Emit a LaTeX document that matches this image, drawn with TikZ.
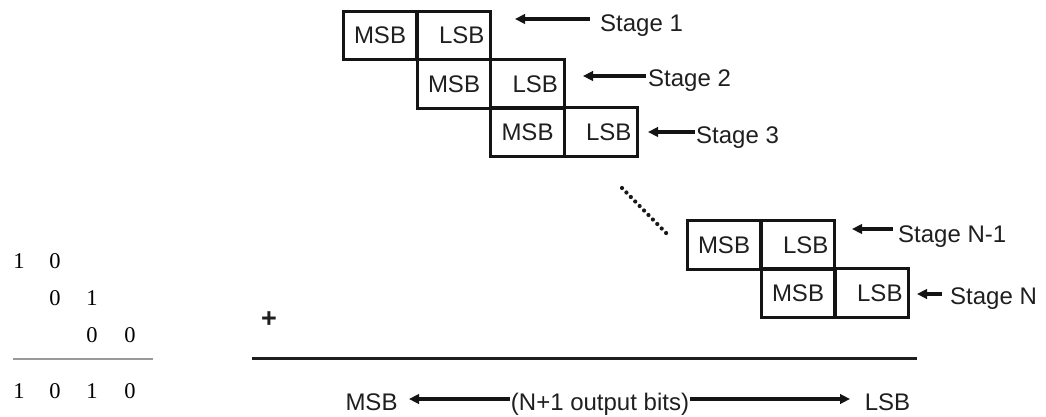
\documentclass[tikz,border=0pt]{standalone}
\usepackage{fontspec}
\setmainfont{Liberation Sans}
\newfontfamily\digitfont{Liberation Serif}
\usetikzlibrary{arrows.meta}

\begin{document}
\begin{tikzpicture}[x=1pt,y=-1pt,
  txt/.style={font=\fontsize{24}{28}\selectfont, text=black!88},
  cell/.style={txt, draw=black!92, line width=2.8pt, minimum width=73.6pt,
    minimum height=48.5pt, inner sep=0pt},
  msbcell/.style={cell, text width=73.6pt, align=center},
  lsbcell/.style={cell, inner xsep=6.3pt, text width=61pt, align=right},
  stagelbl/.style={txt, anchor=base west, inner sep=0pt},
  arr/.style={-{Triangle[length=10pt,width=9.5pt]}, line width=3.4pt, draw=black!92},
  dig/.style={font=\digitfont\fontsize{22.5}{26}\selectfont, anchor=base, inner sep=0pt, text=black}]
\useasboundingbox (0,0) rectangle (1046,417);

% ---- staircase of partial results ----
\node[msbcell] (m1) at (380,35.5) {MSB};
\node[lsbcell] (l1) at (454,35.5) {LSB};
\node[msbcell] (m2) at (454,84) {MSB};
\node[lsbcell] (l2) at (527.5,84) {LSB};
\node[msbcell] (m3) at (527.5,132) {MSB};
\node[lsbcell] (l3) at (601,132) {LSB};
\node[msbcell] (mn1) at (724,245) {MSB};
\node[lsbcell] (ln1) at (798,245) {LSB};
\node[msbcell] (mn) at (798,293) {MSB};
\node[lsbcell] (ln) at (872,293) {LSB};

% ellipsis between stage 3 and stage N-1
\draw[line width=4.2pt, line cap=round, dash pattern=on 0pt off 6.3pt, black!90]
  (622,188) -- (670,237);

% ---- stage labels with pointers ----
\node[stagelbl] (s1) at (600,32) {Stage 1};
\node[stagelbl] (s2) at (648,87) {Stage 2};
\node[stagelbl] (s3) at (696,143) {Stage 3};
\node[stagelbl] (sn1) at (898,242) {Stage N-1};
\node[stagelbl] (sn) at (950,304) {Stage N};

\coordinate (t1) at (515,19);
\coordinate (t2) at (583,76);
\coordinate (t3) at (648,132);
\coordinate (tn1) at (852,229);
\coordinate (tn) at (917,294);
\draw[arr, shorten <=10pt] (t1 -| s1.west) -- (t1);
\draw[arr, shorten <=2pt] (t2 -| s2.west) -- (t2);
\draw[arr, shorten <=1pt] (t3 -| s3.west) -- (t3);
\draw[arr, shorten <=5pt] (tn1 -| sn1.west) -- (tn1);
\draw[arr, shorten <=8pt] (tn -| sn.west) -- (tn);

% ---- sum line and output width ----
\node[txt, font=\bfseries\fontsize{27}{30}\selectfont, inner sep=0pt] (plus) at (269,320) {+};
\coordinate (sumL) at (252,358);
\coordinate (sumR) at (917,358);
\draw[line width=3pt, draw=black!88] (sumL) -- (sumR);

\node[txt, anchor=base, inner sep=0pt] (omsb) at (371.5,410) {MSB};
\node[txt, anchor=base, inner sep=0pt] (obits) at (600,410) {(N+1 output bits)};
\node[txt, anchor=base, inner sep=0pt] (olsb) at (887.5,410) {LSB};
\coordinate (tm) at (409,399);
\coordinate (tl) at (850,399);
\draw[arr, shorten <=1pt] (tm -| obits.west) -- (tm);
\draw[arr, shorten <=1pt] (tl -| obits.east) -- (tl);

% ---- small worked example ----
\node[dig] (a1) at (19,268) {1};
\node[dig] (a2) at (55,268) {0};
\node[dig] (b2) at (55,305) {0};
\node[dig] (b3) at (92,305) {1};
\node[dig] (c3) at (92,342) {0};
\node[dig] (c4) at (130,342) {0};
\coordinate (exL) at (13,359);
\coordinate (exR) at (153,359);
\draw[line width=1.8pt, draw=black!40] (exL) -- (exR);
\node[dig] (r1) at (19,398) {1};
\node[dig] (r2) at (55,398) {0};
\node[dig] (r3) at (92,398) {1};
\node[dig] (r4) at (130,398) {0};
\end{tikzpicture}
\end{document}
